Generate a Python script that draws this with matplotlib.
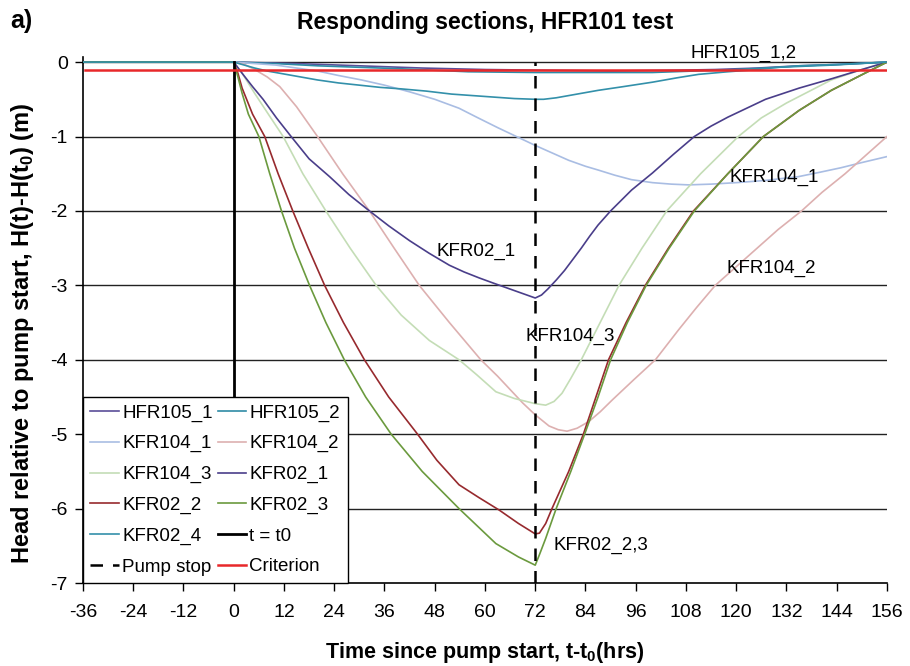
import numpy as np
import matplotlib
matplotlib.use("Agg")
from matplotlib import pyplot as plt

plt.rcParams['font.family'] = ['Liberation Sans', 'DejaVu Sans']
plt.rcParams['mathtext.fontset'] = 'custom'
plt.rcParams['mathtext.rm'] = 'Liberation Sans'
plt.rcParams['mathtext.bf'] = 'Liberation Sans:bold'
plt.rcParams['axes.unicode_minus'] = False

# ---- data (hours since pump start, head change in m) ----
t_hfr105_1 = [-36, 0, 15, 30, 45, 60, 75, 90, 105, 115, 125, 135, 145, 156]
h_hfr105_1 = [0, 0, -0.02, -0.05, -0.08, -0.10, -0.11, -0.12, -0.11, -0.10, -0.08, -0.05, -0.03, 0]

t_hfr105_2 = [-36, 0, 10, 20, 30, 40, 48, 56, 64, 72, 86, 100, 110, 120, 130, 143, 156]
h_hfr105_2 = [0, 0, -0.02, -0.05, -0.07, -0.09, -0.11, -0.13, -0.135, -0.14, -0.14, -0.14, -0.12, -0.1, -0.07, -0.04, 0]

t_kfr104_1 = [-36, 0, 5, 10, 15, 20, 25, 30.5, 36, 42, 48, 53.8, 58, 63, 67.5, 72, 76, 80, 84, 87, 91, 95,
              100, 104.5, 108.6, 114, 120, 127, 134.8, 140, 145, 150, 156]
h_kfr104_1 = [0, 0, -0.02, -0.04, -0.08, -0.12, -0.18, -0.24, -0.31, -0.4, -0.5, -0.62, -0.74, -0.88, -1.0, -1.12,
              -1.22, -1.32, -1.4, -1.45, -1.52, -1.58, -1.62, -1.64, -1.65, -1.64, -1.62, -1.59, -1.54, -1.48, -1.42,
              -1.35, -1.27]

t_kfr104_2 = [-36, 0, 2.5, 5, 8, 11, 15, 20, 26, 32.4, 38.3, 44.3, 51.5, 59, 63, 66, 69, 72, 75.3, 77.5, 79.6,
              82, 84.8, 87.5, 90.4, 95.5, 100.7, 106.2, 110.5, 115, 120, 125, 130, 135.6, 140.5, 146, 151, 156]
h_kfr104_2 = [0, 0, -0.03, -0.1, -0.2, -0.33, -0.6, -1.0, -1.5, -2.0, -2.5, -3.0, -3.5, -4.0, -4.22, -4.4, -4.58,
              -4.74, -4.89, -4.94, -4.96, -4.92, -4.83, -4.7, -4.54, -4.27, -4.0, -3.6, -3.3, -3.0, -2.75, -2.5,
              -2.25, -2.0, -1.75, -1.5, -1.25, -1.0]

t_kfr104_3 = [-36, 0, 2, 5, 8.5, 11.8, 16.5, 22, 27.8, 34, 40, 46.7, 53.8, 58, 62.6, 67, 72, 74.5, 76.5, 78.4,
              80.5, 83, 87.5, 92, 97.5, 103.4, 111.5, 120.5, 126, 132, 142.7, 150, 156]
h_kfr104_3 = [0, 0, -0.15, -0.42, -0.72, -1.0, -1.5, -2.0, -2.5, -3.0, -3.4, -3.74, -4.0, -4.2, -4.43, -4.52,
              -4.59, -4.61, -4.56, -4.45, -4.25, -4.0, -3.5, -3.0, -2.5, -2.0, -1.5, -1.0, -0.75, -0.55, -0.24,
              -0.1, 0]

t_kfr02_1 = [-36, 0, 2, 4.5, 7, 10.2, 13.7, 18, 22.9, 27.5, 32.4, 37, 42, 46.7, 51.5, 55, 58.6, 62, 66, 69.5,
             72, 73.5, 75, 77, 79, 81, 83, 85, 87, 90, 95, 100, 105, 110, 114, 118, 122.5, 127, 135, 143, 150, 156]
h_kfr02_1 = [0, 0, -0.15, -0.33, -0.5, -0.75, -1.0, -1.3, -1.54, -1.78, -2.0, -2.2, -2.4, -2.57, -2.73, -2.82,
             -2.9, -2.97, -3.05, -3.12, -3.17, -3.13, -3.05, -2.93, -2.8, -2.65, -2.5, -2.34, -2.19, -2.0, -1.72,
             -1.49, -1.24, -1.0, -0.86, -0.74, -0.62, -0.5, -0.35, -0.22, -0.1, 0]

t_kfr02_2 = [-36, 0, 1, 2, 4.5, 7.4, 10.6, 14.1, 17.8, 21.7, 26.2, 31.2, 37, 43.9, 48.5, 53.8, 58.5, 63.4, 68,
             72, 73, 74.5, 76, 80, 83.5, 86.5, 89.5, 93.7, 98.3, 103.8, 109.8, 118, 126.5, 135, 142.7, 150, 156]
h_kfr02_2 = [0, 0, -0.15, -0.35, -0.7, -1.0, -1.5, -2.0, -2.5, -3.0, -3.5, -4.0, -4.5, -5.0, -5.35, -5.68, -5.85,
             -6.02, -6.2, -6.34, -6.33, -6.2, -6.0, -5.5, -5.0, -4.5, -4.0, -3.5, -3.0, -2.5, -2.0, -1.5, -1.0,
             -0.65, -0.38, -0.17, 0]

t_kfr02_3 = [-36, 0, 1, 2, 3.5, 6, 8.6, 11.4, 14.5, 18.1, 22, 26.4, 31.5, 37.6, 45, 53.8, 62.6, 68, 72, 73, 74.5,
             77, 80.5, 83.8, 87, 90, 94, 98.5, 104, 110, 118, 126.5, 135, 142.7, 150, 156]
h_kfr02_3 = [0, 0, -0.2, -0.42, -0.7, -1.0, -1.5, -2.0, -2.5, -3.0, -3.5, -4.0, -4.5, -5.0, -5.5, -6.0, -6.47,
             -6.65, -6.76, -6.62, -6.4, -6.0, -5.5, -5.0, -4.5, -4.0, -3.5, -3.0, -2.5, -2.0, -1.5, -1.0, -0.65,
             -0.38, -0.17, 0]

t_kfr02_4 = [-36, 0, 2.5, 5, 8, 11, 15, 20, 25, 30, 35, 40, 46, 52, 57, 62, 67, 72, 74, 77, 80, 84, 87, 93, 100,
             106, 111, 118, 125, 130, 135, 145, 156]
h_kfr02_4 = [0, 0, -0.04, -0.08, -0.12, -0.15, -0.19, -0.24, -0.28, -0.31, -0.34, -0.36, -0.39, -0.43, -0.45,
             -0.47, -0.49, -0.5, -0.5, -0.48, -0.45, -0.41, -0.38, -0.33, -0.27, -0.21, -0.165, -0.13, -0.1, -0.07,
             -0.05, -0.03, 0]

t_start = 0
t_stop = 72
criterion = -0.1
x_ticks = list(range(-36, 157, 12))
y_ticks = list(range(-7, 1))

fig = plt.figure(figsize=(9.1, 6.66), dpi=100)
ax = fig.add_axes([0.0912, 0.1246, 0.8835, 0.790])

for yv in y_ticks[1:]:
    ax.axhline(yv, color='#222222', lw=1.0, zorder=1)

series = [
    ('HFR105_1', t_hfr105_1, h_hfr105_1, '#5a4e98'),
    ('HFR105_2', t_hfr105_2, h_hfr105_2, '#2f8ba6'),
    ('KFR104_1', t_kfr104_1, h_kfr104_1, '#a9bde3'),
    ('KFR104_2', t_kfr104_2, h_kfr104_2, '#ddb0b0'),
    ('KFR104_3', t_kfr104_3, h_kfr104_3, '#c4ddb6'),
    ('KFR02_1', t_kfr02_1, h_kfr02_1, '#4a3e8a'),
    ('KFR02_2', t_kfr02_2, h_kfr02_2, '#972a2e'),
    ('KFR02_3', t_kfr02_3, h_kfr02_3, '#6b9a3e'),
    ('KFR02_4', t_kfr02_4, h_kfr02_4, '#3390aa'),
]

handles = []
for name, t, h, c in series:
    ln, = ax.plot(t, h, color=c, lw=1.2, label=name, zorder=3)
    handles.append(ln)

ln, = ax.plot([t_start, t_start], [y_ticks[0], 0], color='black', lw=2.0, label='t = t0', zorder=4)
handles.append(ln)
ln, = ax.plot([t_stop, t_stop], [y_ticks[0], 0], color='black', lw=1.8, ls=(0, (5, 4)), label='Pump stop', zorder=4)
handles.append(ln)
ln, = ax.plot([x_ticks[0] + 0.5, x_ticks[-1]], [criterion, criterion], color='#e8282a', lw=1.8, label='Criterion', zorder=5)
handles.append(ln)

ax.set_xlim(x_ticks[0], x_ticks[-1])
ax.set_ylim(-7, 0.07)
ax.set_xticks(x_ticks)
ax.set_yticks(y_ticks)
ax.tick_params(axis='both', direction='out', length=6, width=1, labelsize=14)
ax.tick_params(axis='x', pad=9)
ax.tick_params(axis='y', pad=5)
ax.spines['top'].set_visible(False)
ax.spines['right'].set_visible(False)
ax.spines['left'].set_linewidth(1.2)
ax.spines['bottom'].set_linewidth(1.2)

ax.set_xlabel(r'Time since pump start, t-t$_\mathbf{0}$(hrs)', fontsize=15.5, fontweight='bold', labelpad=14)
ax.set_ylabel(r'Head relative to pump start, H(t)-H(t$_\mathbf{0}$) (m)', fontsize=17, fontweight='bold')
ax.yaxis.set_label_coords(-0.058, 0.475)
ax.set_title('Responding sections, HFR101 test', fontsize=16.5, fontweight='bold', pad=20)
fig.text(0.011, 0.968, 'a)', fontsize=18, fontweight='bold', va='center')

ax.text(121.7, 0.12, 'HFR105_1,2', fontsize=13.5, ha='center', va='center', clip_on=False)
ax.text(118.5, -1.55, 'KFR104_1', fontsize=13.5, ha='left', va='center')
ax.text(57.9, -2.55, 'KFR02_1', fontsize=13.5, ha='center', va='center')
ax.text(128.4, -2.77, 'KFR104_2', fontsize=13.5, ha='center', va='center')
ax.text(80.3, -3.68, 'KFR104_3', fontsize=13.5, ha='center', va='center')
ax.text(87.7, -6.5, 'KFR02_2,3', fontsize=13.5, ha='center', va='center')

# legend is filled row by row in the original
order = handles[0::2] + handles[1::2]
leg = ax.legend(handles=order, ncol=2, loc='lower left', bbox_to_anchor=(0, 0),
                borderaxespad=0.0, fontsize=13.5, handlelength=1.5, handletextpad=0.2,
                columnspacing=0.25, labelspacing=0.72, borderpad=0.4,
                fancybox=False, framealpha=1.0, edgecolor='black')
leg.get_frame().set_linewidth(1.0)
leg.set_zorder(10)

fig.savefig('out.png', dpi=100)
